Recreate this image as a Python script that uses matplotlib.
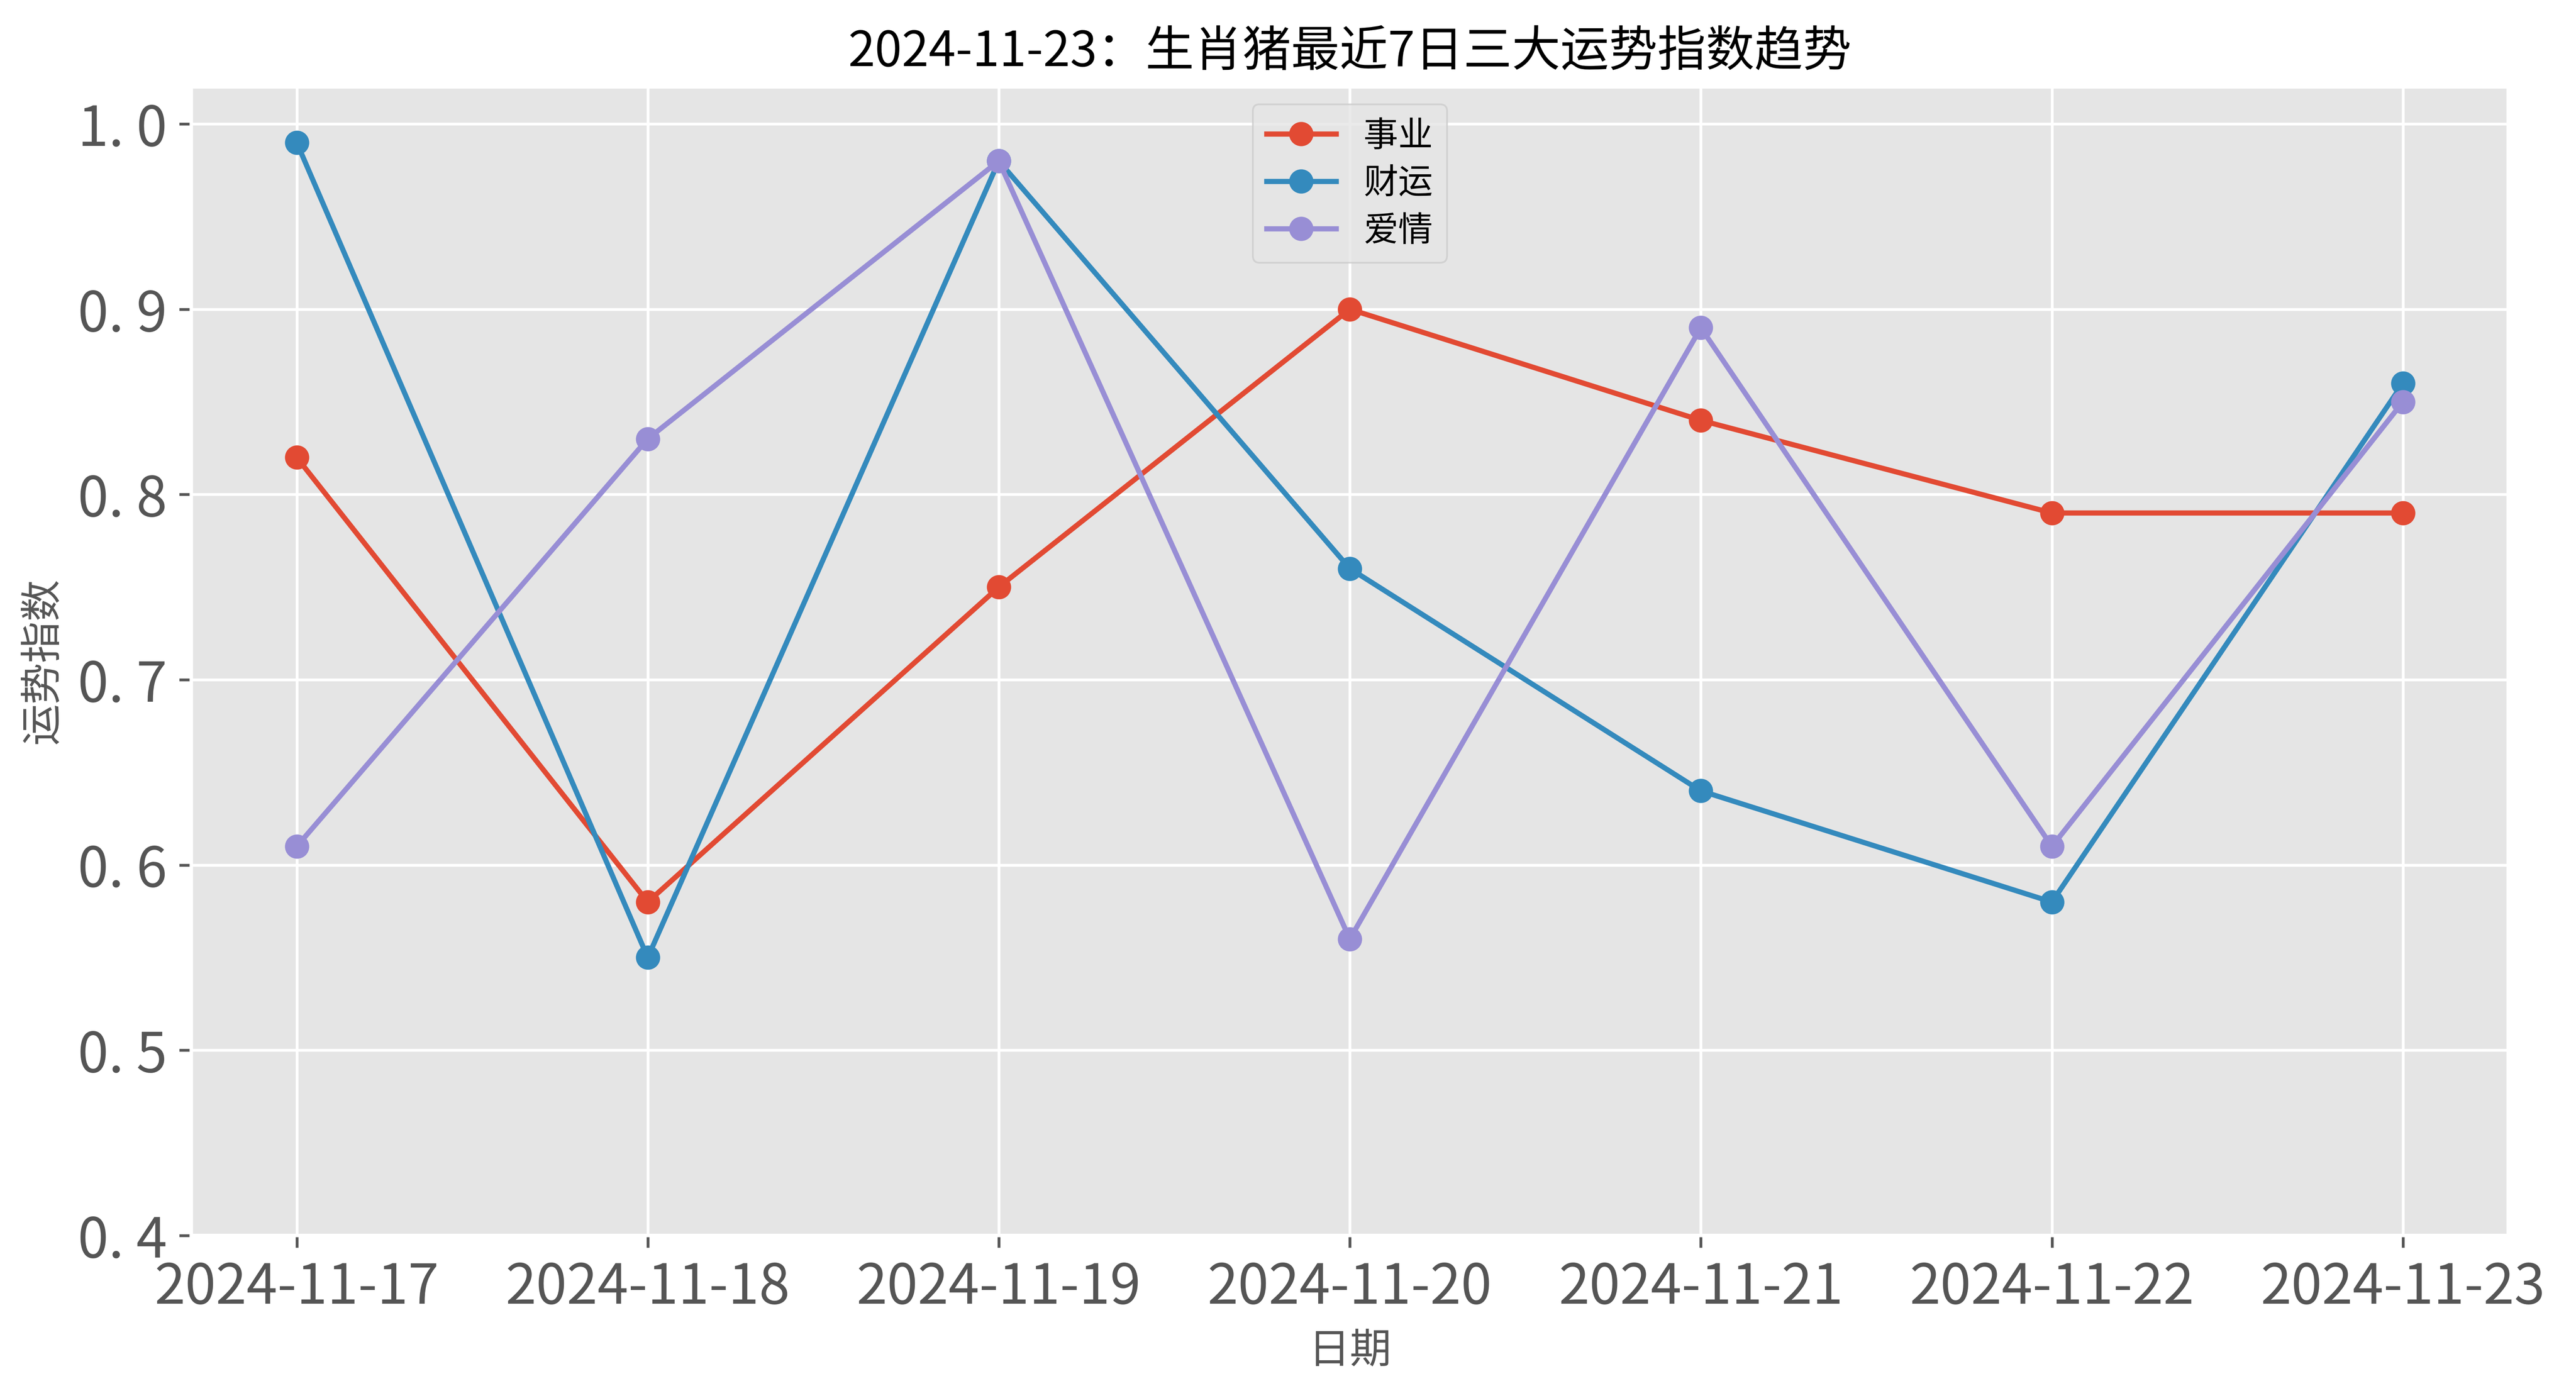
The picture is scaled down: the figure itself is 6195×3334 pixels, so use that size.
import matplotlib
matplotlib.use("Agg")
import matplotlib.pyplot as plt
from matplotlib.ticker import FuncFormatter

plt.style.use("ggplot")
plt.rcParams['font.family'] = ['Noto Sans CJK SC', 'DejaVu Sans']
plt.rcParams['axes.unicode_minus'] = False

# data
dates = ["2024-11-17", "2024-11-18", "2024-11-19", "2024-11-20",
         "2024-11-21", "2024-11-22", "2024-11-23"]
career = [0.82, 0.58, 0.75, 0.90, 0.84, 0.79, 0.79]
wealth = [0.99, 0.55, 0.98, 0.76, 0.64, 0.58, 0.86]
love = [0.61, 0.83, 0.98, 0.56, 0.89, 0.61, 0.85]

fig = plt.figure(figsize=(6195 / 600, 3334 / 600), dpi=600)
ax = fig.add_axes([0.0743, 0.1086, 0.8994, 0.8287])

ax.plot(dates, career, marker='o', label="事业")
ax.plot(dates, wealth, marker='o', label="财运")
ax.plot(dates, love, marker='o', label="爱情")

ax.set_ylim(0.4, 1.02)
ax.yaxis.set_major_formatter(FuncFormatter(lambda v, p: f"{v:.1f}".replace(".", ". ")))
ax.tick_params(axis='both', labelsize=16)
ax.set_title("2024-11-23：生肖猪最近7日三大运势指数趋势", fontsize=14, color='black')
ax.set_xlabel("日期", fontsize=12)
ax.set_ylabel("运势指数", fontsize=12)
ax.legend(loc='upper center', fontsize=10, labelspacing=0.33)

fig.savefig("out.png", dpi=600)
